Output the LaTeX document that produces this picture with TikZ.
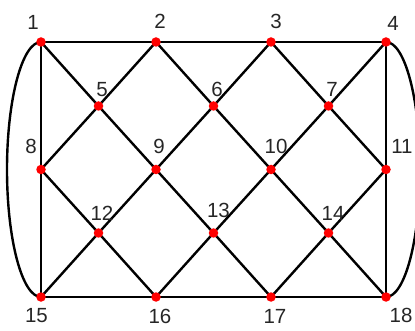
\documentclass[tikz,border=0pt]{standalone}
\usepackage{fontspec}
\setmainfont{Liberation Sans}
\usetikzlibrary{backgrounds}
\begin{document}
\begin{tikzpicture}[x=1pt,y=-1pt,
  dot/.style={circle,fill=red,inner sep=0pt,minimum size=9.5pt},
  edge/.style={line width=2.4pt,black,line join=round},
  lbl/.style={font=\fontsize{20.5}{20.5}\selectfont,text=black!85,inner sep=0pt}]
\useasboundingbox (0,0) rectangle (415,331);
\clip (0,0) rectangle (415,331);
% nodes
\node[dot] (n1) at (41,42) {};
\node[dot] (n2) at (156,42) {};
\node[dot] (n3) at (271,42) {};
\node[dot] (n4) at (386,42) {};
\node[dot] (n5) at (98.5,106) {};
\node[dot] (n6) at (213.5,106) {};
\node[dot] (n7) at (328.5,106) {};
\node[dot] (n8) at (41,169.5) {};
\node[dot] (n9) at (156,169.5) {};
\node[dot] (n10) at (271,169.5) {};
\node[dot] (n11) at (386,169.5) {};
\node[dot] (n12) at (98.5,233) {};
\node[dot] (n13) at (213.5,233) {};
\node[dot] (n14) at (328.5,233) {};
\node[dot] (n15) at (41,297) {};
\node[dot] (n16) at (156,297) {};
\node[dot] (n17) at (271,297) {};
\node[dot] (n18) at (386,297) {};
% edges
\begin{scope}[on background layer]
\draw[edge] (n1.center) -- (n2.center) -- (n3.center) -- (n4.center);
\draw[edge] (n15.center) -- (n16.center) -- (n17.center) -- (n18.center);
\draw[edge] (n1.center) -- (n8.center) -- (n15.center);
\draw[edge] (n4.center) -- (n11.center) -- (n18.center);
\draw[edge] (n1.center) -- (n5.center) -- (n9.center) -- (n13.center) -- (n17.center);
\draw[edge] (n2.center) -- (n6.center) -- (n10.center) -- (n14.center) -- (n18.center);
\draw[edge] (n3.center) -- (n7.center) -- (n11.center);
\draw[edge] (n8.center) -- (n12.center) -- (n16.center);
\draw[edge] (n2.center) -- (n5.center) -- (n8.center);
\draw[edge] (n3.center) -- (n6.center) -- (n9.center) -- (n12.center) -- (n15.center);
\draw[edge] (n4.center) -- (n7.center) -- (n10.center) -- (n13.center) -- (n16.center);
\draw[edge] (n11.center) -- (n14.center) -- (n17.center);
\draw[edge] (n1.center) arc[start angle=90,end angle=270,x radius=34pt,y radius=127.5pt];
\draw[edge] (n4.center) arc[start angle=90,end angle=-90,x radius=34pt,y radius=127.5pt];
\end{scope}
% labels
\node[lbl] (l1) at (33,22) {1};
\node[lbl] (l2) at (160,21) {2};
\node[lbl] (l3) at (276,21) {3};
\node[lbl] (l4) at (393,23.5) {4};
\node[lbl] (l5) at (102,89.5) {5};
\node[lbl] (l6) at (217,89.5) {6};
\node[lbl] (l7) at (332,89.5) {7};
\node[lbl] (l8) at (31,146) {8};
\node[lbl] (l9) at (159,146.5) {9};
\node[lbl] (l10) at (276,146.5) {10};
\node[lbl] (l11) at (402,146) {11};
\node[lbl] (l12) at (102,213) {12};
\node[lbl] (l13) at (218.5,210) {13};
\node[lbl] (l14) at (333,213) {14};
\node[lbl] (l15) at (36.5,315.5) {15};
\node[lbl] (l16) at (160,316) {16};
\node[lbl] (l17) at (275,316) {17};
\node[lbl] (l18) at (401,315.5) {18};
\end{tikzpicture}
\end{document}
